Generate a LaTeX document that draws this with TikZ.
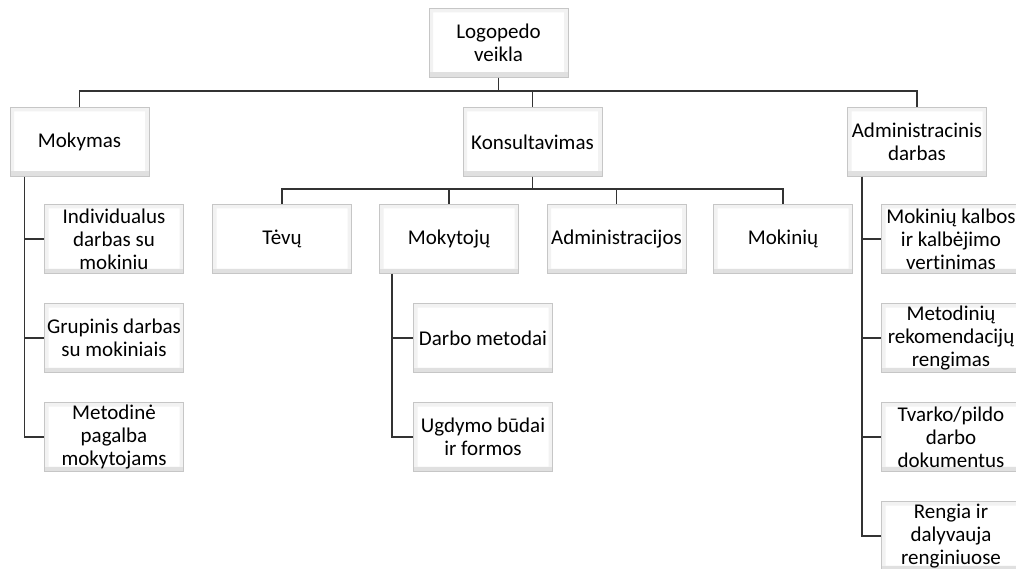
\documentclass[tikz,border=0pt]{standalone}
\usepackage{fontspec}
\setmainfont{Carlito}[Ligatures=NoCommon]
\begin{document}
\begin{tikzpicture}[x=1pt,y=-1pt,
  box/.style={fill=white, draw=gray!45, line width=0.8pt,
    minimum width=139pt, minimum height=69pt, inner sep=0pt,
    align=center, text=black,
    font=\fontsize{21}{23}\selectfont,
    path picture={
      % soft bevel frame
      \fill[gray!10, even odd rule]
        (path picture bounding box.south west) rectangle (path picture bounding box.north east)
        ([shift={(4pt,-4pt)}]path picture bounding box.north west) rectangle
        ([shift={(-4pt,5pt)}]path picture bounding box.south east);
      \fill[gray!24]
        (path picture bounding box.south west) rectangle
        ([shift={(0pt,5pt)}]path picture bounding box.south east);
      \draw[gray!75, line width=1.2pt]
        (path picture bounding box.south west) -- (path picture bounding box.south east);
    }},
  link/.style={draw=black!80, line width=1.3pt}]
\clip (0,0) rectangle (1016,569);
\fill[white] (0,0) rectangle (1016,569);

% root
\node[box] (root) at (498.5,43) {Logopedo\\veikla};

% first level
\node[box] (mok)  at (79.5,142)  {Mokymas};
\node[box] (kons) at (532.5,142) {Konsultavimas};
\node[box] (adm)  at (917,142)   {Administracinis\\darbas};

% consulting targets
\node[box] (tev)   at (282,239)   {Tėvų};
\node[box] (moktj) at (449,239)   {Mokytojų};
\node[box] (admc)  at (616.5,239) {Administracijos};
\node[box] (mokn)  at (783,239)   {Mokinių};

% teaching
\node[box] (ind) at (114,239) {Individualus\\darbas su\\mokiniu};
\node[box] (gru) at (114,338) {Grupinis darbas\\su mokiniais};
\node[box] (met) at (114,437) {Metodinė\\pagalba\\mokytojams};

% teachers
\node[box] (dm) at (483,338) {Darbo metodai};
\node[box] (ub) at (483,437) {Ugdymo būdai\\ir formos};

% administrative work
\node[box] (vert) at (951,239) {Mokinių kalbos\\ir kalbėjimo\\vertinimas};
\node[box] (rek)  at (951,338) {Metodinių\\rekomendacijų\\rengimas};
\node[box] (dok)  at (951,437) {Tvarko/pildo\\darbo\\dokumentus};
\node[box] (ren)  at (951,536) {Rengia ir\\dalyvauja\\renginiuose};

% root connectors
\draw[link] (root.south) -- ++(0,13) -| (mok.north);
\draw[link] (root.south) -- ++(0,13) -| (kons.north);
\draw[link] (root.south) -- ++(0,13) -| (adm.north);

% consulting connectors
\draw[link] (kons.south) -- ++(0,12) -| (tev.north);
\draw[link] (kons.south) -- ++(0,12) -| (moktj.north);
\draw[link] (kons.south) -- ++(0,12) -| (admc.north);
\draw[link] (kons.south) -- ++(0,12) -| (mokn.north);

% vertical rails
\draw[link] ([xshift=15pt]mok.south west) |- (ind.west);
\draw[link] ([xshift=15pt]mok.south west) |- (gru.west);
\draw[link] ([xshift=15pt]mok.south west) |- (met.west);

\draw[link] ([xshift=13pt]moktj.south west) |- (dm.west);
\draw[link] ([xshift=13pt]moktj.south west) |- (ub.west);

\draw[link] ([xshift=15pt]adm.south west) |- (vert.west);
\draw[link] ([xshift=15pt]adm.south west) |- (rek.west);
\draw[link] ([xshift=15pt]adm.south west) |- (dok.west);
\draw[link] ([xshift=15pt]adm.south west) |- (ren.west);
\end{tikzpicture}
\end{document}
